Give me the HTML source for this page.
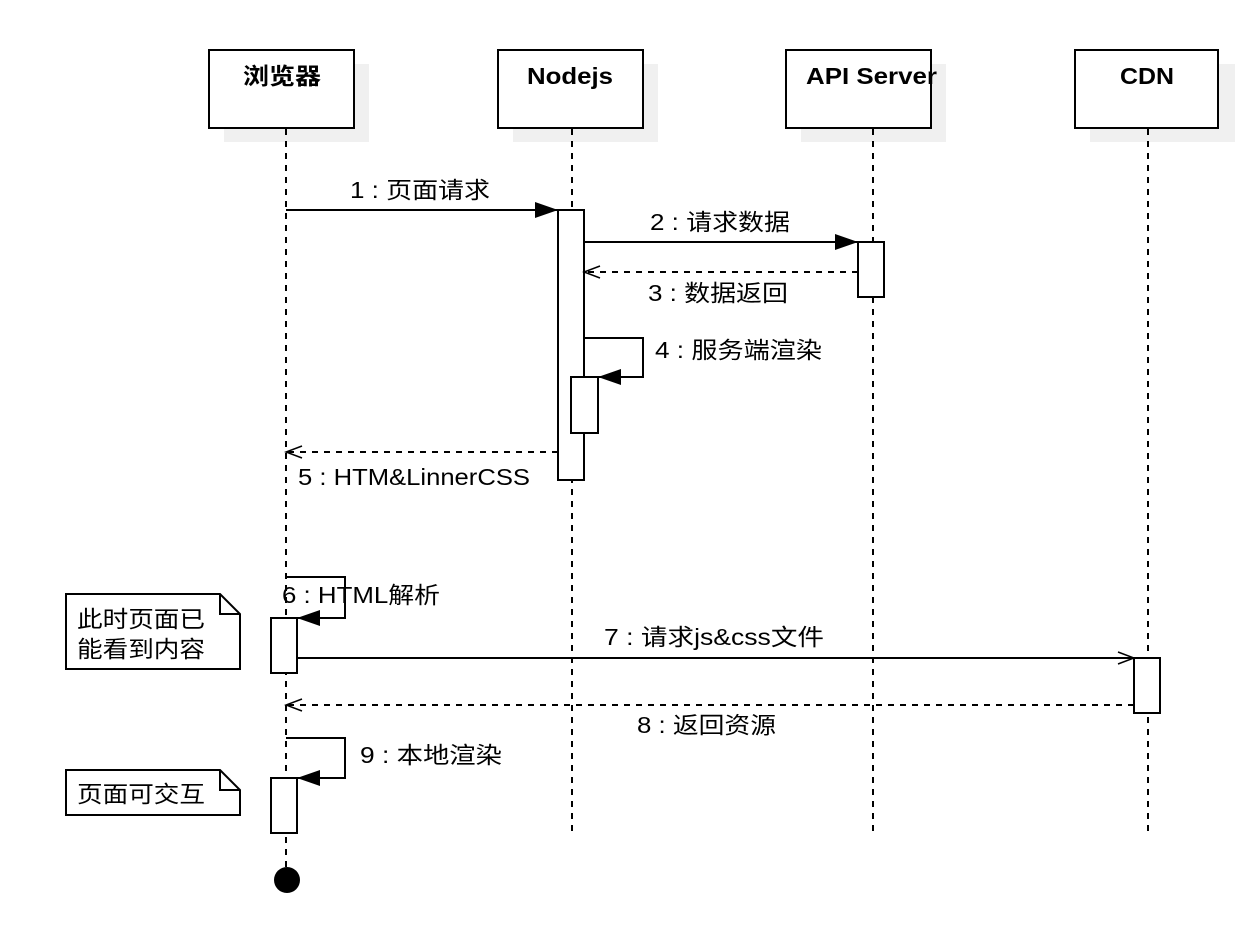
<!DOCTYPE html>
<html><head><meta charset="utf-8"><style>
body{margin:0;background:#fff;}
svg text{font-family:"Liberation Sans","Noto Sans CJK SC",sans-serif;font-size:23px;fill:#000;}
</style></head><body>
<svg width="1252" height="944" viewBox="0 0 1252 944" xmlns="http://www.w3.org/2000/svg">
<defs>
<marker id="fa" markerWidth="26" markerHeight="20" refX="23" refY="10" orient="auto" markerUnits="userSpaceOnUse"><path d="M0,2 L23,10 L0,18 Z" fill="#000"/></marker>
<marker id="o" markerWidth="20" markerHeight="18" refX="18" refY="9" orient="auto" markerUnits="userSpaceOnUse"><path d="M2,3 L18,9 L2,15" fill="none" stroke="#000" stroke-width="1.5"/></marker>
</defs>
<g fill="#f0f0f0">
<rect x="224" y="64" width="145" height="78"/>
<rect x="513" y="64" width="145" height="78"/>
<rect x="801" y="64" width="145" height="78"/>
<rect x="1090" y="64" width="145" height="78"/>
</g>
<g fill="#fff" stroke="#000" stroke-width="2">
<rect x="209" y="50" width="145" height="78"/>
<rect x="498" y="50" width="145" height="78"/>
<rect x="786" y="50" width="145" height="78"/>
<rect x="1075" y="50" width="143" height="78"/>
</g>
<g style="font-weight:bold">
<text x="243" y="84" textLength="78" lengthAdjust="spacingAndGlyphs" style="font-weight:bold">浏览器</text>
<text x="527" y="84" textLength="86" lengthAdjust="spacingAndGlyphs" style="font-weight:bold">Nodejs</text>
<text x="806" y="84" textLength="131" lengthAdjust="spacingAndGlyphs" style="font-weight:bold">API Server</text>
<text x="1120" y="84" textLength="54" lengthAdjust="spacingAndGlyphs" style="font-weight:bold">CDN</text>
</g>
<g stroke="#000" stroke-width="2" stroke-dasharray="6,6">
<line x1="286" y1="129" x2="286" y2="868"/>
<line x1="572" y1="129" x2="572" y2="833"/>
<line x1="873" y1="129" x2="873" y2="833"/>
<line x1="1148" y1="129" x2="1148" y2="833"/>
</g>
<g fill="#fff" stroke="#000" stroke-width="2">
<rect x="558" y="210" width="26" height="270"/>
<rect x="571" y="377" width="27" height="56"/>
<rect x="858" y="242" width="26" height="55"/>
<rect x="271" y="618" width="26" height="55"/>
<rect x="1134" y="658" width="26" height="55"/>
<rect x="271" y="778" width="26" height="55"/>
<path d="M66,594 H220 L240,614 V669 H66 Z"/>
<path d="M220,594 V614 H240" fill="none"/>
<path d="M66,770 H220 L240,790 V815 H66 Z"/>
<path d="M220,770 V790 H240" fill="none"/>
</g>
<circle cx="287" cy="880" r="13" fill="#000"/>
<g stroke="#000" stroke-width="2" fill="none">
<line x1="286" y1="210" x2="558" y2="210" marker-end="url(#fa)"/>
<line x1="584" y1="242" x2="858" y2="242" marker-end="url(#fa)"/>
<line x1="858" y1="272" x2="584" y2="272" stroke-dasharray="6,6" marker-end="url(#o)"/>
<path d="M584,338 H643 V377 H598" marker-end="url(#fa)"/>
<line x1="558" y1="452" x2="286" y2="452" stroke-dasharray="6,6" marker-end="url(#o)"/>
<path d="M286,577 H345 V618 H297" marker-end="url(#fa)"/>
<line x1="297" y1="658" x2="1134" y2="658" marker-end="url(#o)"/>
<line x1="1134" y1="705" x2="286" y2="705" stroke-dasharray="6,6" marker-end="url(#o)"/>
<path d="M286,738 H345 V778 H297" marker-end="url(#fa)"/>
</g>
<text x="350" y="198" textLength="140" lengthAdjust="spacingAndGlyphs">1 : 页面请求</text>
<text x="650" y="230" textLength="140" lengthAdjust="spacingAndGlyphs">2 : 请求数据</text>
<text x="648" y="301" textLength="140" lengthAdjust="spacingAndGlyphs">3 : 数据返回</text>
<text x="655" y="358" textLength="167" lengthAdjust="spacingAndGlyphs">4 : 服务端渲染</text>
<text x="298" y="485" textLength="232" lengthAdjust="spacingAndGlyphs">5 : HTM&amp;LinnerCSS</text>
<text x="282" y="603" textLength="158" lengthAdjust="spacingAndGlyphs">6 : HTML解析</text>
<text x="604" y="645" textLength="220" lengthAdjust="spacingAndGlyphs">7 : 请求js&amp;css文件</text>
<text x="637" y="733" textLength="139" lengthAdjust="spacingAndGlyphs">8 : 返回资源</text>
<text x="360" y="763" textLength="142" lengthAdjust="spacingAndGlyphs">9 : 本地渲染</text>
<text x="77" y="627" textLength="128" lengthAdjust="spacingAndGlyphs">此时页面已</text>
<text x="77" y="657" textLength="128" lengthAdjust="spacingAndGlyphs">能看到内容</text>
<text x="77" y="802" textLength="128" lengthAdjust="spacingAndGlyphs">页面可交互</text>
</svg>
</body></html>
